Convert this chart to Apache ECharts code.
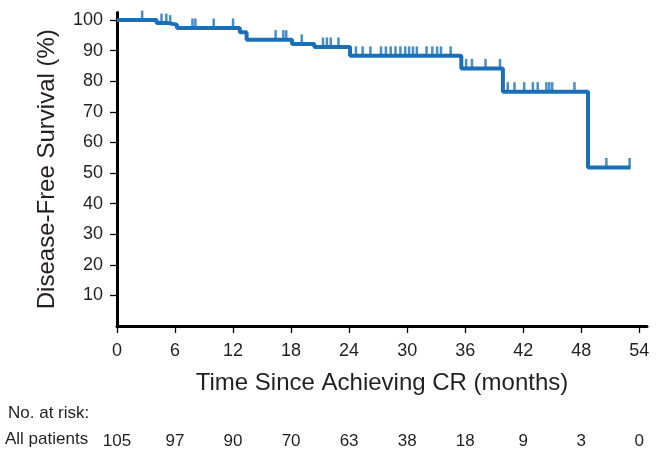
<!DOCTYPE html>
<html>
<head>
<meta charset="utf-8">
<script src="https://cdn.jsdelivr.net/npm/echarts@6/dist/echarts.min.js"></script>
<style>
html,body{margin:0;padding:0;background:#fff;}
#c{width:657px;height:450px;}
</style>
</head>
<body>
<div id="c"></div>
<script>
// Kaplan-Meier steps (time in months, survival % after the step)
var stepTimes = [0, 4.1, 5.3, 6.2, 12.7, 13.4, 18.1, 20.4, 24.1, 35.6, 39.9, 48.7, 53.1];
var stepSurv  = [100, 99, 98.5, 97.4, 96, 93.6, 92.2, 91.2, 88.3, 84.2, 76.6, 51.8, 51.8];
// Censored observations (time, survival level)
var censorTimes = [2.6, 4.6, 5.1, 5.5, 7.8, 8.1, 10.0, 12.0, 16.4, 17.2, 17.5, 19.1, 21.3, 21.7, 22.1, 22.9,
  24.7, 25.4, 26.2, 27.3, 27.8, 28.3, 28.8, 29.3, 29.8, 30.2, 30.6, 31.0, 32.0, 32.6, 33.1, 33.5, 34.5,
  36.1, 36.7, 38.1, 39.6, 40.4, 41.1, 42.1, 43.0, 43.5, 44.4, 44.7, 45.0, 47.3, 50.6, 53.0];
var censorSurv = [100, 99, 99, 98.5, 97.4, 97.4, 97.4, 97.4, 93.6, 93.6, 93.6, 92.2, 91.2, 91.2, 91.2, 91.2,
  88.3, 88.3, 88.3, 88.3, 88.3, 88.3, 88.3, 88.3, 88.3, 88.3, 88.3, 88.3, 88.3, 88.3, 88.3, 88.3, 88.3,
  84.2, 84.2, 84.2, 84.2, 76.6, 76.6, 76.6, 76.6, 76.6, 76.6, 76.6, 76.6, 76.6, 51.8, 51.8];
var xTicks = [0, 6, 12, 18, 24, 30, 36, 42, 48, 54];
var yTicks = [10, 20, 30, 40, 50, 60, 70, 80, 90, 100];
var atRisk = [105, 97, 90, 70, 63, 38, 18, 9, 3, 0];

var FONT = "'Liberation Sans', Arial, sans-serif";
var BLUE = '#1a70b6';
var TXT = '#231f20';

var chart = echarts.init(document.getElementById('c'));
var kmData = stepTimes.map(function (t, i) { return [t, stepSurv[i]]; });
var cData = censorTimes.map(function (t, i) { return [t, censorSurv[i]]; });

chart.setOption({
  animation: false,
  backgroundColor: '#fff',
  grid: { left: 117, right: 10, top: 12.4, bottom: 124 },
  xAxis: {
    type: 'value', min: 0, max: 54.8,
    name: 'Time Since Achieving CR (months)',
    nameLocation: 'middle', nameGap: 45,
    nameTextStyle: { fontFamily: FONT, fontSize: 24, color: TXT },
    axisLine: { show: true, lineStyle: { color: '#000', width: 3 } },
    axisTick: { show: true, customValues: xTicks, length: 7, lineStyle: { color: '#000', width: 1.3 } },
    axisLabel: { customValues: xTicks, fontFamily: FONT, fontSize: 18, color: TXT, margin: 16 },
    splitLine: { show: false }
  },
  yAxis: {
    type: 'value', min: 0, max: 102.5,
    name: 'Disease-Free Survival (%)',
    nameLocation: 'middle', nameGap: 58,
    nameTextStyle: { fontFamily: FONT, fontSize: 24, color: TXT },
    axisLine: { show: true, lineStyle: { color: '#000', width: 3 } },
    axisTick: { show: true, customValues: yTicks, length: 7, lineStyle: { color: '#000', width: 1.3 } },
    axisLabel: { customValues: yTicks, fontFamily: FONT, fontSize: 18, color: TXT, margin: 14 },
    splitLine: { show: false }
  },
  series: [
    {
      type: 'line', step: 'end', data: kmData, symbol: 'none',
      lineStyle: { color: BLUE, width: 4 }, z: 3
    },
    {
      type: 'scatter', data: cData, symbol: 'rect', symbolSize: [2.5, 9], symbolOffset: [0, -5],
      itemStyle: { color: BLUE }, z: 4
    }
  ]
});

var risk = [
  { type: 'text', left: 8, top: 405, style: { text: 'No. at risk:', font: '17px ' + FONT, fill: TXT } },
  { type: 'text', left: 5, top: 431, style: { text: 'All patients', font: '17px ' + FONT, fill: TXT } }
];
xTicks.forEach(function (t, i) {
  var px = chart.convertToPixel({ xAxisIndex: 0 }, t);
  risk.push({ type: 'text', x: px, y: 441, style: { text: String(atRisk[i]), font: '17px ' + FONT, fill: TXT, align: 'center', verticalAlign: 'middle' } });
});
chart.setOption({ graphic: risk });
</script>
</body>
</html>
